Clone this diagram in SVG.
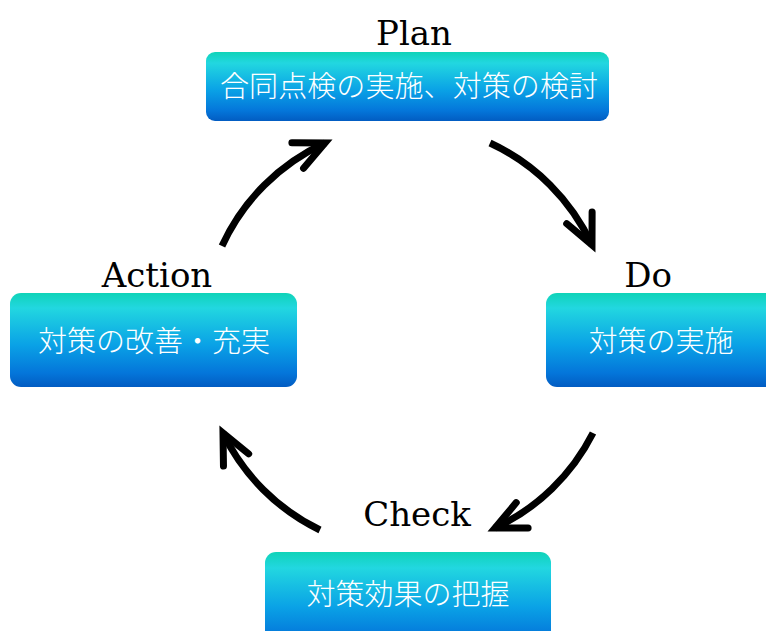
<svg xmlns="http://www.w3.org/2000/svg" width="766" height="631" viewBox="0 0 766 631">
<defs>
<linearGradient id="g" x1="0" y1="0" x2="0" y2="1">
<stop offset="0" stop-color="#0fd3b8"/>
<stop offset="0.16" stop-color="#22d7e0"/>
<stop offset="0.55" stop-color="#0aa2e6"/>
<stop offset="0.85" stop-color="#0476da"/>
<stop offset="1" stop-color="#025cc2"/>
</linearGradient>
<marker id="ah" markerUnits="userSpaceOnUse" orient="auto" markerWidth="60" markerHeight="60" refX="0" refY="0" viewBox="-40 -30 60 60" overflow="visible">
<path d="M-30,-14 L0,0 L-30,14" fill="none" stroke="#000" stroke-width="7" stroke-linecap="round" stroke-linejoin="miter"/>
</marker>
<style>
.box{fill:url(#g);}
.lbl{font-family:"DejaVu Serif","Liberation Serif",serif;font-size:34px;fill:#000;text-anchor:middle;}
.txt{font-family:"Noto Sans CJK JP","Noto Sans CJK SC",sans-serif;font-size:29px;font-weight:300;fill:#fff;text-anchor:middle;dominant-baseline:central;}
.arr{fill:none;stroke:#000;stroke-width:7;marker-end:url(#ah);}
</style>
</defs>
<rect width="766" height="631" fill="#fff"/>
<g id="plan">
<text class="lbl" x="414" y="45">Plan</text>
<rect class="box" x="206" y="52" width="403" height="69" rx="9"/>
<text class="txt" x="409" y="84" textLength="378" lengthAdjust="spacing">合同点検の実施、対策の検討</text>
</g>
<g id="do">
<text class="lbl" x="648" y="287">Do</text>
<rect class="box" x="546" y="293" width="240" height="94" rx="11"/>
<text class="txt" x="661" y="339">対策の実施</text>
</g>
<g id="check">
<text class="lbl" x="417" y="526">Check</text>
<rect class="box" x="265" y="552" width="286" height="100" rx="11"/>
<text class="txt" x="408" y="592">対策効果の把握</text>
</g>
<g id="action">
<text class="lbl" x="157" y="287">Action</text>
<rect class="box" x="10" y="293" width="287" height="94" rx="11"/>
<text class="txt" x="154" y="339">対策の改善・充実</text>
</g>
<g id="connectors">
<path class="arr" d="M222,246 A209,209 0 0 1 325,143"/>
<path class="arr" d="M490,143 A209,209 0 0 1 592,245"/>
<path class="arr" d="M593,433 A209,209 0 0 1 495,528"/>
<path class="arr" d="M320,530 A209,209 0 0 1 223,433"/>
</g>
</svg>
